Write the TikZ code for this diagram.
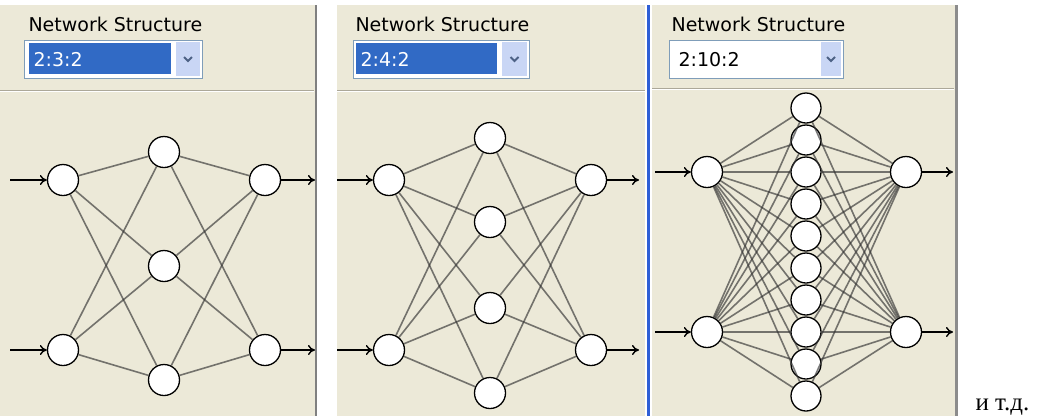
\documentclass[tikz,border=0pt]{standalone}
\usepackage{fontspec}
\setmainfont{DejaVu Sans}
\newfontfamily\rusfont{Liberation Serif}
\usetikzlibrary{arrows.meta}

\definecolor{panelbg}{HTML}{ECE9D8}
\definecolor{selblue}{HTML}{316AC5}
\definecolor{boxedge}{HTML}{7F9DB9}
\definecolor{btnfill}{HTML}{C9D6F5}
\definecolor{chevron}{HTML}{4D6185}
\definecolor{sepgray}{HTML}{ACA899}
\definecolor{xpblue}{HTML}{2F5FD6}

\tikzset{
  neuron/.style={circle,draw=black,fill=white,line width=1.3pt,minimum size=31pt,inner sep=0pt},
  link/.style={draw=black!80,line width=1.6pt,opacity=0.65},
  signal/.style={draw=black,line width=1.4pt,-{To[length=7pt,width=10pt]}},
  caption/.style={anchor=base west,font=\fontsize{19}{22}\selectfont,text=black},
}

\begin{document}
\begin{tikzpicture}[x=1pt,y=-1pt]
\fill[white] (0,0) rectangle (1039,416);
\useasboundingbox (0,0) rectangle (1039,416);

% Panel 2:3:2
\begin{scope}[shift={(0,0)}]
\fill[panelbg] (0,5) rectangle (316,416);
\draw[gray,line width=2pt] (316,5) -- (316,416);
\draw[sepgray] (0,90) -- (314,90);
\draw[white] (0,91) -- (314,91);
\node[caption] (a-title) at (25,31) {Network Structure};
\draw[boxedge,fill=white] (24,40) rectangle (202,78);
\fill[selblue] (29,43) rectangle (171,74);
\fill[btnfill] (176,42) rectangle (200,76);
\draw[chevron,line width=2pt] (184,57) -- (188,61) -- (192,57);
\node[caption,text=white] (a-value) at (30,66) {2:3:2};

% two inputs, three hidden, two outputs
\foreach \n/\y in {1/180,2/350} {
  \node[neuron] (a-in\n) at (63,\y) {};
  \node[neuron] (a-out\n) at (265,\y) {};
  \coordinate (a-s\n) at (10,\y);
  \coordinate (a-e\n) at (315,\y);
}
\foreach \n/\y in {1/152,2/266,3/380}
  \node[neuron] (a-h\n) at (164,\y) {};
\foreach \i in {1,2} {
  \foreach \j in {1,...,3} {
    \draw[link] (a-in\i) -- (a-h\j);
    \draw[link] (a-h\j) -- (a-out\i);
  }
  \draw[signal] (a-s\i) -- (a-in\i);
  \draw[signal] (a-out\i) -- (a-e\i);
}
\end{scope}

% Panel 2:4:2
\begin{scope}[shift={(326,0)}]
\fill[panelbg] (11,5) rectangle (319,416);
\draw[xpblue,line width=3pt] (322.5,5) -- (322.5,416);
\draw[sepgray] (11,90) -- (319,90);
\draw[white] (11,91) -- (319,91);
\node[caption] (b-title) at (26,31) {Network Structure};
\draw[boxedge,fill=white] (27,40) rectangle (203,78);
\fill[selblue] (30,43) rectangle (171,74);
\fill[btnfill] (176,42) rectangle (201,76);
\draw[chevron,line width=2pt] (184.5,57) -- (188.5,61) -- (192.5,57);
\node[caption,text=white] (b-value) at (31,66) {2:4:2};

% two inputs, four hidden, two outputs
\foreach \n/\y in {1/180,2/350} {
  \node[neuron] (b-in\n) at (63,\y) {};
  \node[neuron] (b-out\n) at (265,\y) {};
  \coordinate (b-s\n) at (11,\y);
  \coordinate (b-e\n) at (313,\y);
}
\foreach \n/\y in {1/138,2/222,3/308,4/393}
  \node[neuron] (b-h\n) at (164,\y) {};
\foreach \i in {1,2} {
  \foreach \j in {1,...,4} {
    \draw[link] (b-in\i) -- (b-h\j);
    \draw[link] (b-h\j) -- (b-out\i);
  }
  \draw[signal] (b-s\i) -- (b-in\i);
  \draw[signal] (b-out\i) -- (b-e\i);
}
\end{scope}

% Panel 2:10:2
\begin{scope}[shift={(643,0)}]
\fill[panelbg] (9,5) rectangle (312,416);
\draw[gray!90,line width=3pt] (313.5,5) -- (313.5,416);
\draw[sepgray] (9,88) -- (311,88);
\draw[white] (9,89) -- (311,89);
\node[caption] (c-title) at (25,31) {Network Structure};
\draw[boxedge,fill=white] (26,40) rectangle (200,78);
\fill[btnfill] (178,42) rectangle (198,76);
\draw[chevron,line width=2pt] (184,57) -- (188,61) -- (192,57);
\node[caption] (c-value) at (32,66) {2:10:2};

% two inputs, ten hidden, two outputs
\foreach \n/\y in {1/172,2/332} {
  \node[neuron] (c-in\n) at (64,\y) {};
  \node[neuron] (c-out\n) at (263,\y) {};
  \coordinate (c-s\n) at (12,\y);
  \coordinate (c-e\n) at (310,\y);
}
\foreach \n in {1,...,10}
  \node[neuron,minimum size=30pt] (c-h\n) at (163,{108+32*(\n-1)}) {};
\foreach \i in {1,2} {
  \foreach \j in {1,...,10} {
    \draw[link] (c-in\i) -- (c-h\j);
    \draw[link] (c-h\j) -- (c-out\i);
  }
  \draw[signal] (c-s\i) -- (c-in\i);
  \draw[signal] (c-out\i) -- (c-e\i);
}
\end{scope}

\node[anchor=base west,font=\rusfont\fontsize{25}{30}\selectfont] (etc) at (972,410) {и т.д.};
\end{tikzpicture}
\end{document}
